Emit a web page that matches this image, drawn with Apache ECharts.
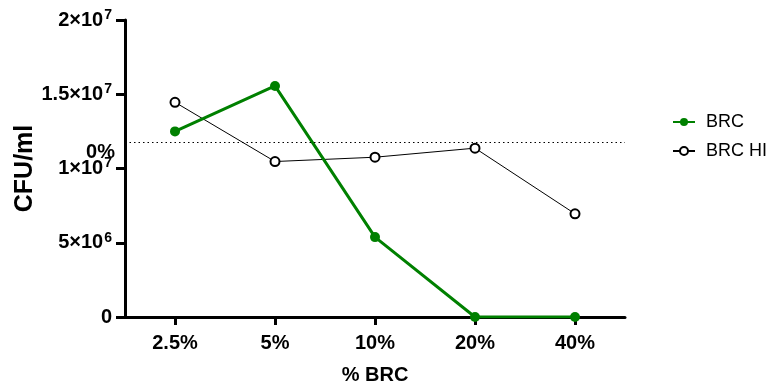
<!DOCTYPE html>
<html>
<head>
<meta charset="utf-8">
<script src="https://cdn.jsdelivr.net/npm/echarts@6/dist/echarts.min.js"></script>
<style>
  html, body { margin: 0; padding: 0; background: #fff; }
  #chart { width: 767px; height: 385px; }
</style>
</head>
<body>
<div id="chart"></div>
<script>
// Categories: BRC concentration
const categories = ['2.5%', '5%', '10%', '20%', '40%'];
// CFU/ml per concentration
const brcValues = [1.25e7, 1.556e7, 5.38e6, 0, 0];
const brcHiValues = [1.446e7, 1.047e7, 1.076e7, 1.137e7, 6.95e6];
// Reference level drawn as a dotted line, labelled "0%"
const referenceLevel = 1.177e7;
const referenceLabel = '0%';
// Y tick labels: [mantissa, exponent]
const yTickLabels = {
  0: ['0', ''],
  5000000: ['5×10', '6'],
  10000000: ['1×10', '7'],
  15000000: ['1.5×10', '7'],
  20000000: ['2×10', '7']
};

const FONT = '"Liberation Sans", Arial, Helvetica, sans-serif';
const chart = echarts.init(document.getElementById('chart'), null, { renderer: 'canvas' });

chart.setOption({
  animation: false,
  backgroundColor: '#fff',
  textStyle: { fontFamily: FONT },
  grid: { left: 125, right: 142, top: 20, bottom: 68, containLabel: false, outerBoundsMode: 'none' },
  legend: {
    orient: 'vertical',
    left: 672,
    top: 113,
    padding: 0,
    itemGap: 11,
    itemWidth: 22,
    itemHeight: 10,
    textStyle: { fontFamily: FONT, fontSize: 18, color: '#000', padding: [0, 0, 0, 6] },
    data: ['BRC', 'BRC HI']
  },
  xAxis: {
    type: 'category',
    data: categories,
    boundaryGap: true,
    name: '% BRC',
    nameLocation: 'middle',
    nameGap: 48,
    nameTextStyle: { fontFamily: FONT, fontSize: 20, fontWeight: 'bold', color: '#000' },
    axisLine: { show: true, lineStyle: { color: '#000', width: 3 } },
    axisTick: { show: true, interval: 0, alignWithLabel: true, length: 8, lineStyle: { color: '#000', width: 3 } },
    axisLabel: { fontFamily: FONT, fontSize: 20, fontWeight: 'bold', color: '#000', margin: 16 },
    splitLine: { show: false }
  },
  yAxis: {
    type: 'value',
    min: 0,
    max: 2e7,
    interval: 5e6,
    name: 'CFU/ml',
    nameLocation: 'middle',
    nameGap: 87,
    nameRotate: 90,
    nameMoveOverlap: false,
    nameTextStyle: { fontFamily: FONT, fontSize: 25, fontWeight: 'bold', color: '#000' },
    axisLine: { show: true, lineStyle: { color: '#000', width: 3 } },
    axisTick: { show: true, length: 9, lineStyle: { color: '#000', width: 3 } },
    splitLine: { show: false },
    axisLabel: {
      margin: 13,
      formatter: function (v) {
        const t = yTickLabels[v] || [String(v), ''];
        return t[1] ? '{m|' + t[0] + '}{e|' + t[1] + '}' : '{m|' + t[0] + '}';
      },
      rich: {
        m: { fontFamily: FONT, fontSize: 20, fontWeight: 'bold', color: '#000' },
        e: { fontFamily: FONT, fontSize: 14, fontWeight: 'bold', color: '#000', verticalAlign: 'top', padding: [0, 0, 10, 1] }
      }
    }
  },
  series: [
    {
      name: 'BRC',
      type: 'line',
      data: brcValues,
      z: 3,
      color: '#008000',
      symbol: 'circle',
      symbolSize: 10,
      lineStyle: { color: '#008000', width: 3 },
      itemStyle: { color: '#008000' },
      markLine: {
        silent: true,
        symbol: 'none',
        data: [{ yAxis: referenceLevel }],
        lineStyle: { type: [1.5, 3], color: '#000', width: 1 },
        label: {
          show: true,
          position: 'start',
          distance: 10,
          verticalAlign: 'top',
          formatter: referenceLabel,
          fontFamily: FONT,
          fontSize: 20,
          fontWeight: 'bold',
          color: '#000'
        }
      }
    },
    {
      name: 'BRC HI',
      type: 'line',
      data: brcHiValues,
      z: 2,
      color: '#000',
      symbol: 'circle',
      symbolSize: 9,
      lineStyle: { color: '#000', width: 1 },
      itemStyle: { color: '#fff', borderColor: '#000', borderWidth: 2 }
    }
  ]
});
</script>
</body>
</html>
